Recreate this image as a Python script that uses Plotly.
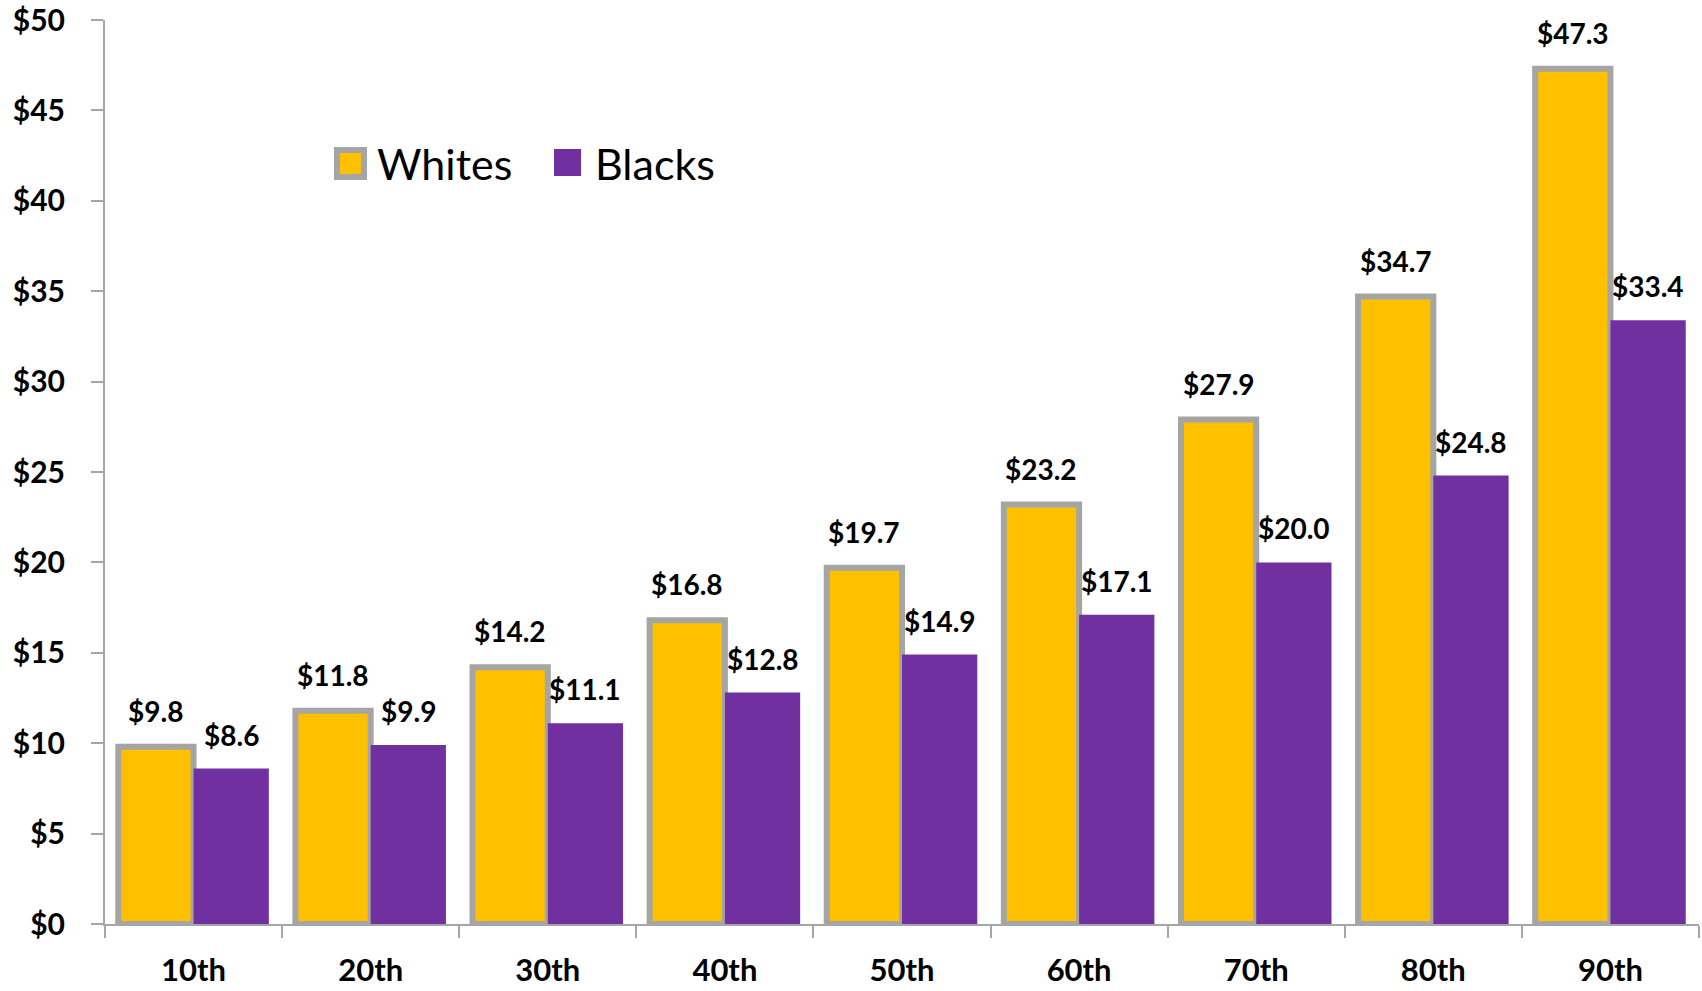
import plotly.graph_objects as go

categories = ["10th", "20th", "30th", "40th", "50th", "60th", "70th", "80th", "90th"]
whites = [9.8, 11.8, 14.2, 16.8, 19.7, 23.2, 27.9, 34.7, 47.3]
blacks = [8.6, 9.9, 11.1, 12.8, 14.9, 17.1, 20.0, 24.8, 33.4]
ytick_vals = [0, 5, 10, 15, 20, 25, 30, 35, 40, 45, 50]
ytick_text = ["$" + str(v) for v in ytick_vals]
series_names = ["Whites", "Blacks"]

FONT = "Lato"
W, H = 1702, 991
ML, MR, MT, MB = 105, 3, 20, 67
YELLOW, PURPLE, GREY = "#FFC000", "#7030A0", "#A5A5A5"

plot_w = W - ML - MR
plot_h = H - MT - MB


def px_x(px):
    return (px - ML) / plot_w


def px_y(py):
    return (H - MB - py) / plot_h


fig = go.Figure()
fig.add_trace(go.Bar(
    x=categories, y=whites, name=series_names[0], showlegend=False,
    marker=dict(color=YELLOW, line=dict(color=GREY, width=6)),
))
fig.add_trace(go.Bar(
    x=categories, y=blacks, name=series_names[1], showlegend=False,
    marker=dict(color=PURPLE, line=dict(width=0)),
))

cat_w = plot_w / len(categories)
bargap = 0.15
bar_w = cat_w * (1 - bargap) / 2
annotations = []
for c, v in zip(categories, whites):
    annotations.append(dict(x=c, y=v, text="$%.1f" % v, showarrow=False,
                            xshift=-bar_w / 2, yshift=17, yanchor="bottom",
                            font=dict(family=FONT, size=28, color="#000000", weight="bold")))
for c, v in zip(categories, blacks):
    annotations.append(dict(x=c, y=v, text="$%.1f" % v, showarrow=False,
                            xshift=bar_w / 2, yshift=15, yanchor="bottom",
                            font=dict(family=FONT, size=28, color="#000000", weight="bold")))

# manual legend (larger swatches than plotly's legend allows)
shapes = [
    dict(type="rect", xref="paper", yref="paper",
         x0=px_x(337), x1=px_x(364), y0=px_y(177), y1=px_y(150),
         fillcolor=YELLOW, line=dict(color=GREY, width=6)),
    dict(type="rect", xref="paper", yref="paper",
         x0=px_x(554), x1=px_x(581), y0=px_y(176), y1=px_y(149),
         fillcolor=PURPLE, line=dict(width=0)),
]
annotations.append(dict(xref="paper", yref="paper", x=px_x(375), y=px_y(163),
                        xanchor="left", yanchor="middle", showarrow=False, text=series_names[0],
                        font=dict(family=FONT, size=43, color="#000000")))
annotations.append(dict(xref="paper", yref="paper", x=px_x(593), y=px_y(163),
                        xanchor="left", yanchor="middle", showarrow=False, text=series_names[1],
                        font=dict(family=FONT, size=43, color="#000000")))

fig.update_layout(
    width=W, height=H,
    margin=dict(l=ML, r=MR, t=MT, b=MB, autoexpand=False),
    paper_bgcolor="white", plot_bgcolor="white",
    barmode="group", bargap=bargap, bargroupgap=0,
    font=dict(family=FONT, color="#000000"),
    showlegend=False,
    annotations=annotations,
    shapes=shapes,
)
fig.update_yaxes(range=[0, 50], tickvals=ytick_vals, ticktext=ytick_text, automargin=False,
                 showgrid=False, zeroline=False, showline=True, linecolor="#A6A6A6", linewidth=2,
                 ticks="outside", ticklen=12, tickcolor="#A6A6A6", tickwidth=2,
                 ticklabelstandoff=20,
                 tickfont=dict(family=FONT, size=30, color="#000000", weight="bold"))
fig.update_xaxes(showgrid=False, showline=True, linecolor="#A6A6A6", linewidth=2, automargin=False,
                 ticks="outside", tickson="boundaries", ticklen=12, tickcolor="#A6A6A6", tickwidth=2,
                 ticklabelstandoff=18,
                 tickfont=dict(family=FONT, size=31, color="#000000", weight="bold"))

fig.write_html("out.html", config={"displayModeBar": False},
               post_script=["document.body.style.margin='0px';document.body.style.overflow='hidden';"])
